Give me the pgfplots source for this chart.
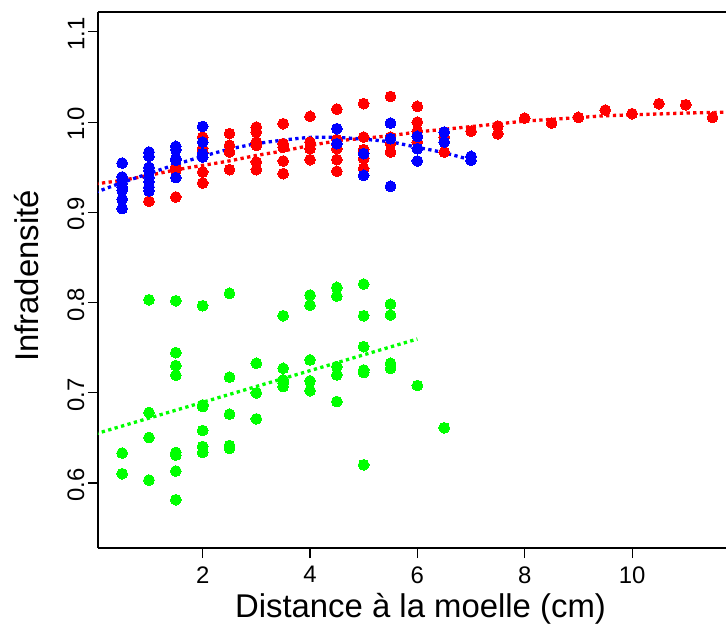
\documentclass[border=0pt]{standalone}
\usepackage{pgfplots}
\pgfplotsset{compat=1.18}
\usepackage{fontspec}
\setmainfont{Liberation Sans}
\definecolor{rR}{RGB}{255,0,0}
\definecolor{rB}{RGB}{0,0,255}
\definecolor{rG}{RGB}{0,255,0}
\begin{document}
\begin{tikzpicture}
\begin{axis}[
  at={(0,0)}, anchor=origin,
  scale only axis, width=628bp, height=536bp,
  xmin=0.05, xmax=11.75, ymin=0.528, ymax=1.122,
  axis x line=box, axis y line=left,
  axis line style={line width=1.1bp, black, -},
  xtick={2,4,6,8,10}, ytick={0.6,0.7,0.8,0.9,1.0,1.1},
  yticklabels={0.6,0.7,0.8,0.9,1.0,1.1},
  xtick pos=bottom, ytick pos=left,
  tick align=outside, major tick length=10bp,
  tick style={line width=1.1bp, black},
  /pgf/number format/assume math mode=true,
  ticklabel style={font=\fontsize{24}{24}\selectfont},
  xticklabel style={anchor=north, yshift=-5bp},
  yticklabel style={rotate=90, anchor=south, xshift=-2bp},
  xlabel={Distance à la moelle (cm)},
  ylabel={Infradensité},
  label style={font=\fontsize{33}{33}\selectfont},
  xlabel style={at={(axis description cs:0.5135,-0.113)}, anchor=center},
  ylabel style={at={(axis description cs:-0.113,0.5075)}, anchor=center, rotate=0},
  clip=true,
]
% points
\addplot[only marks, color=rR, mark=*, mark size=5.4bp, mark options={draw=rR, fill=rR, line width=0pt}] coordinates {
(1,0.9123)
(1.5,0.950)(1.5,0.9466)(1.5,0.917)
(2,0.9834)(2,0.9705)(2,0.9668)(2,0.9447)(2,0.9325)
(2.5,0.9872)(2.5,0.9742)(2.5,0.9668)(2.5,0.9473)
(3,0.9945)(3,0.989)(3,0.9779)(3,0.9742)(3,0.9558)(3,0.9473)
(3.5,0.9982)(3.5,0.9761)(3.5,0.9723)(3.5,0.9569)(3.5,0.9429)
(4,1.0063)(4,0.9779)(4,0.9705)(4,0.9584)
(4.5,1.0144)(4.5,0.9806)(4.5,0.976)(4.5,0.9705)(4.5,0.9584)(4.5,0.9455)
(5,1.0204)(5,0.9834)(5,0.9695)(5,0.9595)(5,0.9484)
(5.5,1.0284)(5.5,0.9834)(5.5,0.976)(5.5,0.9668)
(6,1.0174)(6,1.0)(6,0.990)(6,0.9842)(6,0.9779)
(6.5,0.9834)(6.5,0.9668)
(7,0.990)
(7.5,0.9956)(7.5,0.987)
(8,1.0044)(8.5,0.9989)(9,1.0052)(9.5,1.0133)(10,1.0093)(10.5,1.0204)(11,1.0192)(11.5,1.0052)
};
\addplot[only marks, color=rB, mark=*, mark size=5.4bp, mark options={draw=rB, fill=rB, line width=0pt}] coordinates {
(0.5,0.9546)(0.5,0.9392)(0.5,0.9355)(0.5,0.9319)(0.5,0.928)(0.5,0.9245)(0.5,0.9145)(0.5,0.9042)
(1,0.9668)(1,0.962)(1,0.950)(1,0.9466)(1,0.939)(1,0.9336)(1,0.928)(1,0.9237)
(1.5,0.9731)(1.5,0.9695)(1.5,0.9595)(1.5,0.9576)(1.5,0.9385)
(2,0.9952)(2,0.9779)(2,0.965)(2,0.9613)
(4.5,0.9927)(4.5,0.9761)
(5,0.965)(5,0.941)
(5.5,0.9989)(5.5,0.9816)(5.5,0.9289)
(6,0.9842)(6,0.9705)(6,0.9569)
(6.5,0.989)(6.5,0.9779)
(7,0.962)(7,0.9576)
};
\addplot[only marks, color=rG, mark=*, mark size=5.4bp, mark options={draw=rG, fill=rG, line width=0pt}] coordinates {
(0.5,0.6332)(0.5,0.6103)
(1,0.8031)(1,0.6781)(1,0.6504)(1,0.6033)
(1.5,0.802)(1.5,0.7445)(1.5,0.7301)(1.5,0.7195)(1.5,0.6339)(1.5,0.631)(1.5,0.6133)(1.5,0.5815)
(2,0.7965)(2,0.6866)(2,0.6847)(2,0.6582)(2,0.6405)(2,0.6339)
(2.5,0.8102)(2.5,0.7173)(2.5,0.6763)(2.5,0.6416)(2.5,0.6383)
(3,0.7327)(3,0.6999)(3,0.6711)
(3.5,0.7854)(3.5,0.7272)(3.5,0.7143)(3.5,0.7106)(3.5,0.7069)
(4,0.8083)(4,0.7972)(4,0.7364)(4,0.7132)(4,0.7024)
(4.5,0.8168)(4.5,0.8072)(4.5,0.729)(4.5,0.7198)(4.5,0.6903)
(5,0.8205)(5,0.7854)(5,0.7511)(5,0.7253)(5,0.7224)(5,0.6202)
(5.5,0.7983)(5.5,0.7862)(5.5,0.7327)(5.5,0.7272)
(6,0.708)
(6.5,0.6612)
};
% fitted curves
\addplot[rR, line width=3.3bp, dash pattern=on 3.3bp off 3.4bp, smooth] coordinates {
(0,0.9315)(0.5,0.9355)(1,0.941)(1.5,0.947)(2,0.952)(2.5,0.957)(3,0.963)(3.5,0.968)(4,0.974)(4.5,0.979)(5,0.982)(5.5,0.985)(6,0.989)(6.5,0.992)(7,0.995)(7.5,0.998)(8,1.001)(8.5,1.003)(9,1.005)(9.5,1.007)(10,1.008)(10.5,1.009)(11,1.010)(11.8,1.011)
};
\addplot[rB, line width=3.3bp, dash pattern=on 3.3bp off 3.4bp, smooth] coordinates {
(0,0.922)(0.5,0.933)(1,0.943)(1.5,0.953)(2,0.962)(2.5,0.970)(3,0.976)(3.5,0.980)(4,0.983)(4.5,0.983)(5,0.981)(5.5,0.978)(6,0.972)(6.5,0.966)(7,0.958)
};
\addplot[rG, line width=3.3bp, dash pattern=on 3.3bp off 3.4bp] coordinates {
(0,0.6544)(6,0.7596)
};
\end{axis}
\pgfresetboundingbox
\path[use as bounding box] (-98bp,-78bp) rectangle (628bp,548bp);
\end{tikzpicture}
\end{document}
